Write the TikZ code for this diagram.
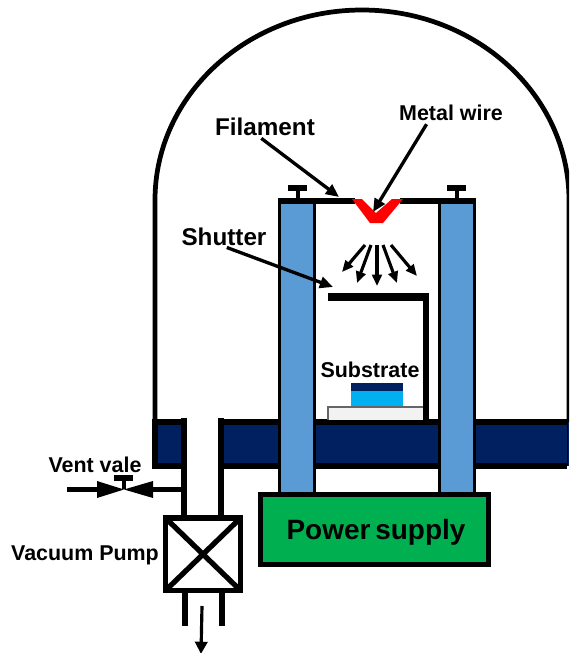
\documentclass[tikz,border=0pt]{standalone}
\usepackage{fontspec}
\setmainfont{Liberation Sans}
\usetikzlibrary{arrows.meta}
\definecolor{navybase}{HTML}{002060}
\definecolor{pillarblue}{HTML}{5B9BD5}
\definecolor{supplygreen}{HTML}{00B050}
\definecolor{samplecyan}{HTML}{00B0F0}
\definecolor{wirered}{HTML}{FF0000}
\definecolor{holdergrey}{HTML}{F2F2F2}
\newcommand{\lblsize}[1]{\fontsize{#1}{#1}\selectfont\bfseries}
\begin{document}
\begin{tikzpicture}[x=.02cm,y=-.02cm,
    wall/.style={line width=2.9pt},
    lbl/.style={inner sep=0pt,font=\lblsize{12.2}},
    biglbl/.style={inner sep=0pt,font=\lblsize{13.8}},
    pointer/.style={line width=1.9pt,shorten <=2pt,-{Triangle[length=7.5pt,width=6.5pt]}},
    spray/.style={line width=1.8pt,-{Triangle[length=6.5pt,width=5.5pt]}}]
  \useasboundingbox (0,0) rectangle (569,653);
  \clip (0,0) rectangle (569,653);
  \draw[line width=2.7pt] (155,422) -- (155,200) arc[start angle=180,end angle=360,x radius=207,y radius=190] -- (569,422);
  \fill[navybase] (155,422) rectangle (569,466);
  \fill[white] (184,415) rectangle (221,470);
  \draw[wall] (184,422) -- (155,422) -- (155,466) -- (184,466);
  \draw[wall] (221,422) -- (567,422);
  \draw[wall] (221,466) -- (567,466);
  \draw[line width=1pt] (567.5,422) -- (567.5,466);
  \draw[wall] (184,418) -- (184,518);
  \draw[wall] (221,418) -- (221,518);
  \draw[draw=black!60,fill=holdergrey,line width=1.4pt] (328,420) -- (328,407) -- (425,407) -- (425,420);
  \fill[samplecyan] (351,391) rectangle (403,406);
  \fill[navybase] (351,383) rectangle (403,391);
  \draw[line width=4.4pt] (328,297) -- (428.5,297);
  \draw[line width=3.2pt] (426,295) -- (426,421);
  \draw[fill=pillarblue,line width=1.7pt] (279.5,201) rectangle (314.5,494);
  \draw[fill=pillarblue,line width=1.7pt] (439.5,201) rectangle (474.5,494);
  \draw[wall] (278,201) -- (355,201);
  \draw[wall] (400,201) -- (476,201);
  \fill[wirered] (352,199) -- (370,223) -- (383,223) -- (403,199) -- (392,199) -- (376,213) -- (362,199) -- cycle;
  \draw[line width=2.8pt] (298,199) -- (298,188);
  \draw[line width=3.4pt] (288,188) -- (307,188);
  \draw[line width=2.8pt] (457,199) -- (457,188);
  \draw[line width=3.4pt] (447,188) -- (466,188);
  \draw[fill=supplygreen,wall] (260.5,494.5) rectangle (488.5,564.5);
  \draw[wall,fill=white] (165.5,518) rectangle (240.5,590.5);
  \draw[line width=3pt] (165.5,518) -- (240.5,590.5);
  \draw[line width=3pt] (240.5,518) -- (165.5,590.5);
  \draw[wall] (185,592) -- (185,626);
  \draw[wall] (222,592) -- (222,626);
  \draw[line width=3.3pt] (67,489.5) -- (97,489.5);
  \draw[line width=3.3pt] (153,489.5) -- (183,489.5);
  \fill (97,481) -- (124,489.5) -- (97,498) -- cycle;
  \fill (153,481) -- (124,489.5) -- (153,498) -- cycle;
  \draw[line width=2.8pt] (124,489) -- (124,478);
  \draw[line width=3.4pt] (114,478) -- (133,478);
  \node[biglbl] (filament) at (265,127) {Filament};
  \node[lbl] (metalwire) at (451,113) {Metal wire};
  \node[biglbl] (shutter) at (224,237) {Shutter};
  \node[lbl] (substrate) at (370,370) {Substrate};
  \node[lbl] (ventvale) at (95,465) {Vent vale};
  \node[lbl] (vacuumpump) at (85,555) {Vacuum Pump};
  \node[inner sep=0pt,font=\lblsize{15.9}] (powersupply) at (376,532) {Power\hspace{-.1em} supply};
  \coordinate (filamenttip) at (339,197);
  \coordinate (wiretip) at (373,212);
  \coordinate (shuttertip) at (333,287);
  \coordinate (pumpout) at (202,606);
  \coordinate (pumptip) at (201,654);
  \draw[pointer] (filament.-125) -- (filamenttip);
  \draw[pointer] (metalwire.-160) -- (wiretip);
  \draw[pointer] (shutter.-93) -- (shuttertip);
  \draw[line width=1.8pt,-{Triangle[length=7pt,width=7pt]}] (pumpout) -- (pumptip);
  \foreach \from/\to in {365/{342,272},371/{357,283},377/{377,286},383/{397,283},391/{417,276}}
    \draw[spray] (\from,245) -- (\to);
\end{tikzpicture}
\end{document}
